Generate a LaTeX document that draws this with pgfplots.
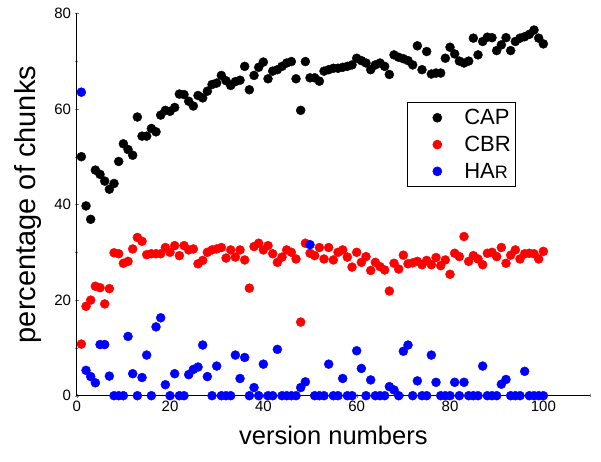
\documentclass[border=0pt]{standalone}
\usepackage{fontspec}
\setmainfont{Liberation Sans}
\usepackage{pgfplots}
\usepackage{pgfplotstable}
\pgfplotsset{compat=1.18}
\pgfplotstableread{
x cap cbr har
1 50.0 10.8 63.5
2 39.7 18.7 5.3
3 36.9 20.0 4.0
4 47.2 22.9 2.7
5 46.3 22.6 10.7
6 44.9 19.2 10.7
7 43.2 22.4 4.1
8 44.4 29.9 0
9 49.0 29.7 0
10 52.7 27.7 0
11 51.5 28.1 12.4
12 50.3 30.7 4.6
13 58.3 33.1 0
14 54.3 32.3 3.8
15 54.3 29.5 8.5
16 55.9 29.7 0
17 55.2 29.7 14.4
18 58.7 29.7 16.3
19 59.7 31.0 2.3
20 59.5 30.0 0
21 60.3 31.4 4.6
22 63.1 29.3 0
23 63.0 31.4 0
24 61.6 30.5 4.4
25 60.6 30.7 5.5
26 62.8 27.6 6.0
27 62.3 28.3 10.6
28 63.7 30.0 4.0
29 65.1 30.5 0
30 65.4 30.7 6.2
31 67.0 31.0 0
32 65.9 28.8 0
33 64.9 30.5 0
34 65.7 29.0 8.5
35 66.0 30.5 3.6
36 68.9 28.4 8.0
37 64.0 22.5 0
38 67.0 31.2 1.7
39 68.7 31.9 0
40 69.8 30.5 6.6
41 66.3 31.4 0
42 67.9 29.7 0
43 68.2 27.9 9.7
44 68.9 29.0 0
45 69.6 30.5 0
46 69.9 30.0 0
47 66.3 28.6 0
48 59.7 15.4 1.7
49 69.9 31.9 2.9
50 66.5 29.8 31.6
51 66.5 29.3 0
52 65.8 31.0 0
53 67.9 28.6 0
54 68.2 31.0 6.6
55 68.5 28.4 0
56 68.5 30.0 0
57 68.7 30.5 3.6
58 68.9 29.0 0
59 69.2 26.9 0
60 70.6 30.0 9.4
61 70.1 27.9 5.7
62 69.6 29.1 0
63 68.2 26.2 3.3
64 69.2 27.9 0
65 69.6 27.0 0
66 68.9 26.3 0
67 67.2 21.9 1.9
68 71.3 27.7 1.2
69 70.8 26.5 0
70 70.5 29.4 9.3
71 70.1 27.6 10.6
72 69.2 27.8 0
73 73.2 28.1 3.1
74 68.2 27.4 0
75 72.0 28.3 0
76 67.3 27.4 8.5
77 67.5 28.9 2.8
78 67.5 27.2 0
79 70.6 28.4 0
80 72.9 25.4 0
81 71.5 29.8 2.8
82 70.0 29.1 0
83 69.6 33.3 2.8
84 70.0 28.1 0
85 74.8 29.3 0
86 71.3 28.6 0
87 74.1 27.4 6.2
88 75.0 29.8 0
89 74.9 30.0 0
90 72.2 29.1 0
91 73.4 31.0 2.4
92 74.9 27.7 3.4
93 72.2 29.4 0
94 74.1 30.5 0
95 74.8 28.6 0
96 75.1 29.7 5.1
97 75.6 29.8 0
98 76.5 29.7 0
99 74.8 28.6 0
100 73.6 30.2 0
}\chunks
\begin{document}
\begin{tikzpicture}
\path (-76.7pt,-66.3pt) rectangle (524.3pt,395.7pt);
\begin{axis}[
  at={(0pt,0pt)}, anchor=south west,
  scale only axis, width=513.3pt, height=382.4pt,
  xmin=0, xmax=110, ymin=0, ymax=80,
  axis lines=left,
  axis line style={-, line width=1.3pt},
  xtick={0,20,...,100}, minor xtick={10,30,...,110},
  ytick={0,20,...,80}, minor ytick={10,30,50,70},
  tick label style={font=\fontsize{15}{18}\selectfont},
  /pgf/number format/assume math mode=true,
  xlabel={version numbers}, ylabel={percentage of chunks},
  xlabel style={font=\fontsize{25.5}{30}\selectfont},
  xlabel shift=7pt,
  ylabel style={font=\fontsize{29}{34}\selectfont},
  ylabel shift=6pt,
  legend style={at={(rel axis cs:0.6435,0.768)}, anchor=north west,
    draw=black, line width=0.6pt, font=\fontsize{22}{26}\selectfont,
    inner xsep=3pt, inner ysep=5pt, row sep=6pt, cells={anchor=west}},
  legend image code/.code={\path[draw=none] (0pt,-6pt) rectangle (52pt,6pt); \draw[#1] plot coordinates {(27pt,0pt)};},
]
\addplot[only marks, mark=*, mark size=4.5pt, black] table[x=x, y=cap] {\chunks};
\addlegendentry{CAP}
\addplot[only marks, mark=*, mark size=4.5pt, red] table[x=x, y=cbr] {\chunks};
\addlegendentry{CBR}
\addplot[only marks, mark=*, mark size=4.5pt, blue] table[x=x, y=har] {\chunks};
\addlegendentry{HA{\fontsize{18}{20}\selectfont R}}
\end{axis}
\end{tikzpicture}
\end{document}
